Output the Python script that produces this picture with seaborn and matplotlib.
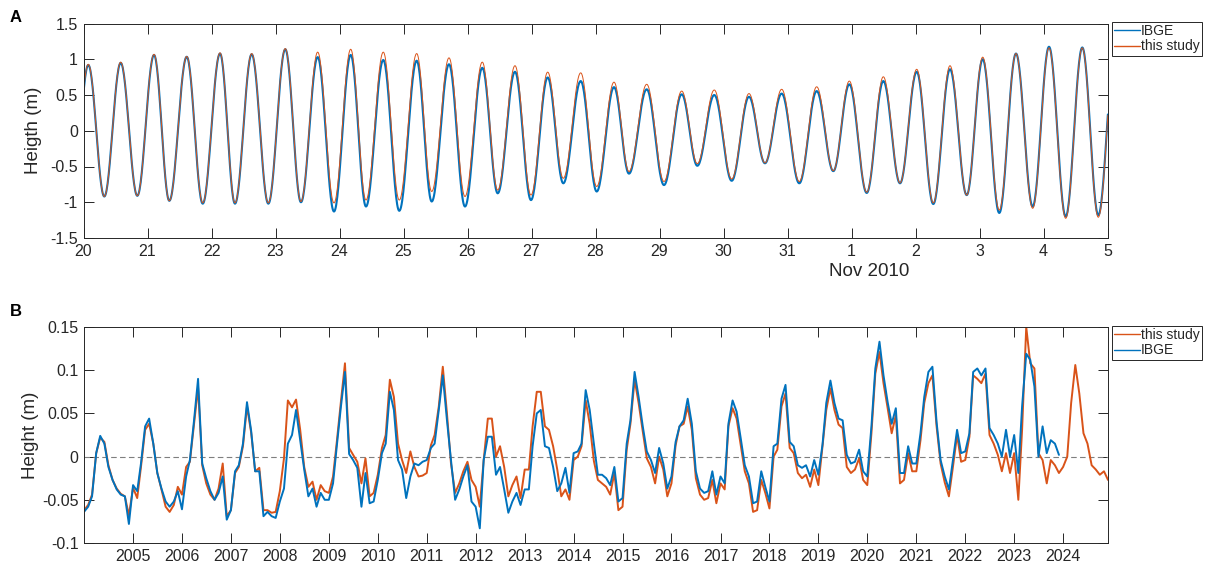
import numpy as np
import pandas as pd
import matplotlib
matplotlib.use("Agg")
import matplotlib.pyplot as plt
import matplotlib.dates as mdates
from matplotlib.ticker import FuncFormatter, FixedLocator, FixedFormatter
import seaborn as sns

# ---------------------------------------------------------------------------
# Panel A: successive high / low waters, 20 Oct - 5 Nov 2010
# times in days after 2010-10-20 00:00, heights in metres
tide_day = [-0.17, 0.075, 0.325, 0.581, 0.841, 1.102, 1.341, 1.613, 1.863,
            2.133, 2.367, 2.628, 2.888, 3.153, 3.398, 3.659, 3.914, 4.175,
            4.414, 4.684, 4.934, 5.206, 5.441, 5.711, 5.961, 6.231, 6.472,
            6.742, 6.992, 7.253, 7.497, 7.769, 8.019, 8.289, 8.523, 8.800,
            9.070, 9.347, 9.591, 9.856, 10.128, 10.398, 10.648, 10.909,
            11.184, 11.456, 11.716, 11.966, 12.238, 12.497, 12.758, 13.019,
            13.278, 13.539, 13.800, 14.050, 14.309, 14.570, 14.831, 15.086,
            15.347, 15.606, 15.856, 16.12]
tide_ibge = [-0.88, 0.92, -0.92, 0.95, -0.91, 1.06, -0.98, 1.035, -1.02,
             1.08, -1.02, 1.07, -1.02, 1.14, -1.00, 1.03, -1.13, 1.06, -1.06,
             0.99, -1.12, 0.98, -0.99, 0.93, -1.06, 0.88, -0.875, 0.825,
             -0.97, 0.745, -0.735, 0.695, -0.85, 0.61, -0.60, 0.58, -0.76,
             0.51, -0.49, 0.50, -0.70, 0.475, -0.455, 0.52, -0.735, 0.555,
             -0.565, 0.65, -0.87, 0.695, -0.735, 0.825, -1.025, 0.86, -0.90,
             1.00, -1.15, 1.08, -1.06, 1.175, -1.20, 1.165, -1.18, 1.15]
tide_study = [-0.88, 0.93, -0.92, 0.96, -0.91, 1.07, -0.98, 1.04, -1.01,
              1.09, -1.01, 1.08, -1.01, 1.15, -0.99, 1.10, -1.01, 1.14, -0.97,
              1.10, -0.97, 1.08, -0.85, 1.02, -0.92, 0.96, -0.83, 0.91,
              -0.90, 0.82, -0.665, 0.81, -0.78, 0.68, -0.57, 0.65, -0.71,
              0.555, -0.46, 0.57, -0.675, 0.52, -0.45, 0.58, -0.71, 0.615,
              -0.56, 0.695, -0.86, 0.755, -0.73, 0.86, -1.01, 0.91, -0.90,
              1.03, -1.11, 1.08, -1.085, 1.16, -1.225, 1.16, -1.21, 1.15]

# ---------------------------------------------------------------------------
# Panel B: monthly mean sea level anomaly (m), Jan 2004 onwards
ibge_monthly = [
    -0.064, -0.058, -0.046, 0.004, 0.024, 0.015, -0.012, -0.027, -0.038, -0.044, -0.046, -0.078,  # 2004
    -0.033, -0.040, -0.008, 0.035, 0.044, 0.015, -0.019, -0.037, -0.052, -0.058, -0.052, -0.040,  # 2005
    -0.061, -0.023, -0.004, 0.042, 0.090, -0.008, -0.025, -0.040, -0.050, -0.042, -0.023, -0.073,  # 2006
    -0.062, -0.017, -0.010, 0.015, 0.063, 0.030, -0.017, -0.017, -0.069, -0.064, -0.069, -0.071,  # 2007
    -0.052, -0.037, 0.015, 0.025, 0.054, 0.019, -0.015, -0.046, -0.037, -0.058, -0.042, -0.050,   # 2008
    -0.050, -0.031, 0.012, 0.058, 0.098, 0.003, -0.004, -0.013, -0.058, -0.019, -0.054, -0.052,   # 2009
    -0.027, 0.004, 0.015, 0.075, 0.054, -0.004, -0.015, -0.048, -0.023, -0.008, -0.010, -0.006,   # 2010
    -0.004, 0.010, 0.015, 0.054, 0.094, 0.042, -0.004, -0.050, -0.038, -0.023, -0.010, -0.052,    # 2011
    -0.058, -0.083, -0.004, 0.023, 0.023, -0.021, -0.012, -0.038, -0.065, -0.052, -0.042, -0.056, # 2012
    -0.038, -0.038, 0.012, 0.050, 0.054, 0.012, 0.010, -0.012, -0.040, -0.031, -0.013, -0.042,    # 2013
    0.004, 0.006, 0.015, 0.077, 0.054, 0.015, -0.021, -0.021, -0.025, -0.033, -0.012, -0.052,     # 2014
    -0.048, 0.015, 0.042, 0.098, 0.069, 0.035, 0.006, -0.004, -0.019, 0.010, -0.008, -0.037,      # 2015
    -0.023, 0.017, 0.035, 0.042, 0.067, 0.038, -0.017, -0.037, -0.042, -0.040, -0.017, -0.044,    # 2016
    -0.023, -0.031, 0.038, 0.065, 0.052, 0.021, -0.010, -0.023, -0.054, -0.052, -0.017, -0.035,   # 2017
    -0.052, 0.012, 0.015, 0.067, 0.083, 0.017, 0.012, -0.010, -0.013, -0.010, -0.023, -0.004,     # 2018
    -0.021, 0.014, 0.062, 0.088, 0.062, 0.044, 0.042, 0.002, -0.008, -0.006, 0.008, -0.017,       # 2019
    -0.023, 0.035, 0.102, 0.133, 0.094, 0.063, 0.038, 0.056, -0.019, -0.019, 0.012, -0.008,       # 2020
    -0.008, 0.027, 0.069, 0.098, 0.104, 0.040, -0.004, -0.023, -0.038, -0.004, 0.031, 0.004,      # 2021
    0.006, 0.027, 0.098, 0.102, 0.094, 0.102, 0.033, 0.025, 0.015, 0.000, 0.031, 0.000,           # 2022
    0.025, -0.019, 0.058, 0.119, 0.112, 0.081, 0.000, 0.035, 0.004, 0.019, 0.015, 0.002,          # 2023
]
study_monthly = [
    -0.062, -0.056, -0.044, 0.004, 0.022, 0.017, -0.010, -0.027, -0.037, -0.043, -0.046, -0.068,  # 2004
    -0.036, -0.048, -0.012, 0.031, 0.038, 0.015, -0.019, -0.038, -0.058, -0.064, -0.056, -0.035,  # 2005
    -0.044, -0.012, -0.006, 0.038, 0.080, -0.010, -0.031, -0.044, -0.050, -0.037, -0.008, -0.069, # 2006
    -0.062, -0.019, -0.012, 0.012, 0.058, 0.028, -0.017, -0.013, -0.062, -0.062, -0.065, -0.064,  # 2007
    -0.040, -0.002, 0.065, 0.057, 0.066, 0.031, -0.012, -0.035, -0.029, -0.050, -0.033, -0.040,   # 2008
    -0.042, -0.023, 0.017, 0.064, 0.108, 0.010, 0.002, -0.006, -0.031, -0.002, -0.046, -0.042,    # 2009
    -0.021, 0.010, 0.025, 0.089, 0.069, 0.015, -0.004, -0.019, 0.006, -0.012, -0.023, -0.022,     # 2010
    -0.019, 0.013, 0.025, 0.058, 0.104, 0.050, -0.008, -0.042, -0.031, -0.017, -0.006, -0.027,    # 2011
    -0.035, -0.058, -0.004, 0.044, 0.044, 0.000, 0.012, -0.012, -0.046, -0.033, -0.023, -0.048,   # 2012
    -0.015, -0.015, 0.035, 0.075, 0.075, 0.035, 0.031, 0.012, -0.015, -0.046, -0.038, -0.050,     # 2013
    -0.004, 0.000, 0.012, 0.065, 0.038, -0.005, -0.027, -0.031, -0.035, -0.044, -0.019, -0.062,   # 2014
    -0.058, 0.008, 0.038, 0.089, 0.062, 0.029, -0.002, -0.012, -0.031, 0.000, -0.015, -0.046,     # 2015
    -0.031, 0.013, 0.035, 0.038, 0.058, 0.031, -0.025, -0.044, -0.050, -0.048, -0.027, -0.054,    # 2016
    -0.031, -0.038, 0.035, 0.056, 0.044, 0.013, -0.017, -0.031, -0.064, -0.062, -0.027, -0.042,   # 2017
    -0.060, 0.000, 0.008, 0.058, 0.073, 0.010, 0.004, -0.019, -0.025, -0.021, -0.035, -0.015,     # 2018
    -0.033, 0.012, 0.054, 0.079, 0.054, 0.037, 0.033, -0.012, -0.019, -0.015, -0.002, -0.027,     # 2019
    -0.033, 0.027, 0.096, 0.121, 0.085, 0.056, 0.027, 0.048, -0.031, -0.027, 0.004, -0.017,       # 2020
    -0.017, 0.019, 0.062, 0.085, 0.094, 0.035, -0.008, -0.030, -0.046, -0.012, 0.025, -0.006,     # 2021
    -0.004, 0.023, 0.094, 0.090, 0.085, 0.096, 0.025, 0.015, 0.002, -0.017, 0.004, -0.019,        # 2022
    0.004, -0.050, 0.031, 0.150, 0.108, 0.102, 0.004, -0.004, -0.031, -0.004, -0.010, -0.019,     # 2023
    -0.012, 0.000, 0.062, 0.106, 0.073, 0.027, 0.015, -0.010, -0.015, -0.021, -0.017, -0.027,     # 2024
]

year_ticks = list(range(2005, 2025))
day_ticks_a = pd.date_range("2010-10-20", "2010-11-05", freq="D")
ytick_a = [-1.5, -1, -0.5, 0, 0.5, 1, 1.5]
ytick_a_labels = ["-1.5", "-1", "-0.5", "0", "0.5", "1", "1.5"]
ytick_b = [-0.1, -0.05, 0, 0.05, 0.1, 0.15]
ytick_b_labels = ["-0.1", "-0.05", "0", "0.05", "0.1", "0.15"]

BLUE = "#0072BD"
ORANGE = "#D95319"
AXC = "#262626"


def tide_curve(days, heights, n=30):
    """Trace a smooth tide curve through successive high and low waters."""
    t_parts, h_parts = [], []
    for i in range(len(days) - 1):
        s = np.linspace(0.0, 1.0, n, endpoint=False)
        t_parts.append(days[i] + (days[i + 1] - days[i]) * s)
        h_parts.append(heights[i] + (heights[i + 1] - heights[i])
                       * (1 - np.cos(np.pi * s)) / 2)
    t_parts.append(np.array([days[-1]]))
    h_parts.append(np.array([heights[-1]]))
    return np.concatenate(t_parts), np.concatenate(h_parts)


start_a = pd.Timestamp("2010-10-20")
t_i, h_i = tide_curve(tide_day, tide_ibge)
t_s, h_s = tide_curve(tide_day, tide_study)
df_a_ibge = pd.DataFrame({"time": start_a + pd.to_timedelta(t_i, unit="D"),
                          "height": h_i})
df_a_study = pd.DataFrame({"time": start_a + pd.to_timedelta(t_s, unit="D"),
                           "height": h_s})

months_ibge = pd.date_range("2004-01-01", periods=len(ibge_monthly), freq="MS")
months_study = pd.date_range("2004-01-01", periods=len(study_monthly), freq="MS")
df_b_ibge = pd.DataFrame({"time": months_ibge, "height": ibge_monthly})
df_b_study = pd.DataFrame({"time": months_study, "height": study_monthly})

sns.set_theme(style="ticks")
plt.rcParams["font.family"] = ["Liberation Sans", "DejaVu Sans"]
plt.rcParams["axes.unicode_minus"] = False

W, H = 1207, 570
fig = plt.figure(figsize=(W / 100, H / 100), dpi=100)
fig.patch.set_facecolor("white")


def px_axes(left, top, right, bottom):
    return fig.add_axes([left / W, 1 - bottom / H, (right - left) / W,
                         (bottom - top) / H])


def style_axes(ax):
    for sp in ax.spines.values():
        sp.set_visible(True)
        sp.set_color(AXC)
        sp.set_linewidth(0.7)
    ax.tick_params(direction="in", length=7, width=0.7, colors=AXC,
                   labelsize=11.5, top=True, right=True, pad=4,
                   labelcolor=AXC)
    ax.set_facecolor("white")


def style_legend(ax, top_px):
    leg = ax.legend(loc="upper left", bbox_to_anchor=(1112 / W, 1 - top_px / H),
                    bbox_transform=fig.transFigure, borderaxespad=0,
                    fontsize=10, handlelength=1.9, handletextpad=0.05,
                    borderpad=0.15, labelspacing=0.1, fancybox=False,
                    framealpha=1)
    leg.get_frame().set_edgecolor(AXC)
    leg.get_frame().set_linewidth(0.7)
    for txt in leg.get_texts():
        txt.set_color(AXC)
    for ln in leg.get_lines():
        ln.set_linewidth(1.0)
    return leg


# ---------------- Panel A ----------------
ax_a = px_axes(83.5, 23.5, 1107.5, 238)
sns.lineplot(data=df_a_ibge, x="time", y="height", ax=ax_a, color=BLUE,
             linewidth=1.5, label="IBGE", estimator=None, sort=False)
sns.lineplot(data=df_a_study, x="time", y="height", ax=ax_a, color=ORANGE,
             linewidth=0.7, label="this study", estimator=None, sort=False)
ax_a.set_xlim(pd.Timestamp("2010-10-20"), pd.Timestamp("2010-11-05"))
ax_a.set_ylim(-1.5, 1.5)
ax_a.xaxis.set_major_locator(FixedLocator(mdates.date2num(day_ticks_a)))
ax_a.xaxis.set_major_formatter(
    FuncFormatter(lambda v, p: str(mdates.num2date(v).day)))
ax_a.yaxis.set_major_locator(FixedLocator(ytick_a))
ax_a.yaxis.set_major_formatter(FixedFormatter(ytick_a_labels))
ax_a.set_xlabel("")
ax_a.set_ylabel("Heigth (m)", fontsize=13.5, color=AXC, labelpad=6)
style_axes(ax_a)
fig.text(869 / W, 1 - 272 / H, "Nov 2010", ha="center", va="center",
         fontsize=13.5, color=AXC)
style_legend(ax_a, 22)

# ---------------- Panel B ----------------
ax_b = px_axes(84, 327, 1108, 543)
ax_b.axhline(0, color="#7f7f7f", linewidth=0.8, linestyle=(0, (5, 3)),
             zorder=1)
sns.lineplot(data=df_b_study, x="time", y="height", ax=ax_b, color=ORANGE,
             linewidth=1.4, label="this study", estimator=None, sort=False)
sns.lineplot(data=df_b_ibge, x="time", y="height", ax=ax_b, color=BLUE,
             linewidth=1.4, label="IBGE", estimator=None, sort=False)
ax_b.set_xlim(pd.Timestamp("2004-01-01"), pd.Timestamp("2024-12-01"))
ax_b.set_ylim(-0.1, 0.15)
year_pos = mdates.date2num([pd.Timestamp(f"{y}-01-01") for y in year_ticks])
ax_b.xaxis.set_major_locator(FixedLocator(year_pos))
ax_b.xaxis.set_major_formatter(FixedFormatter([str(y) for y in year_ticks]))
ax_b.yaxis.set_major_locator(FixedLocator(ytick_b))
ax_b.yaxis.set_major_formatter(FixedFormatter(ytick_b_labels))
ax_b.set_xlabel("")
ax_b.set_ylabel("Height (m)", fontsize=13.5, color=AXC, labelpad=2)
style_axes(ax_b)
style_legend(ax_b, 326)

# panel letters
fig.text(16 / W, 1 - 17 / H, "A", fontsize=12, fontweight="bold",
         ha="center", va="center", color="black")
fig.text(16 / W, 1 - 311 / H, "B", fontsize=12, fontweight="bold",
         ha="center", va="center", color="black")

fig.savefig("out.png", dpi=100, facecolor="white")
